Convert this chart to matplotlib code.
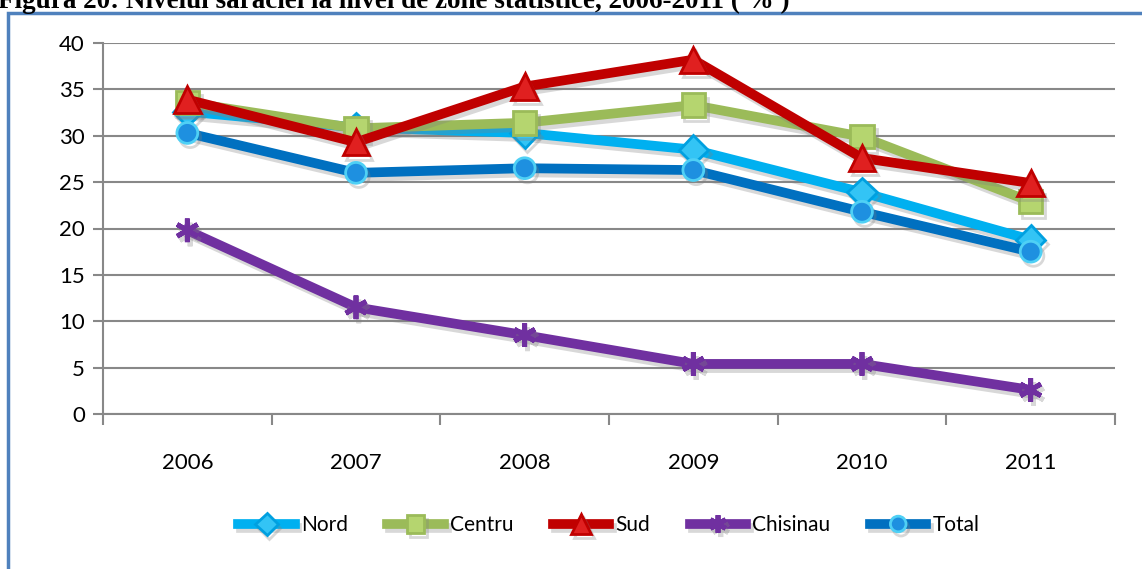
import matplotlib.pyplot as plt
import matplotlib.patheffects as pe
from matplotlib.patches import Rectangle
from matplotlib.ticker import MultipleLocator

# data
years = ['2006', '2007', '2008', '2009', '2010', '2011']
nord = [32.6, 30.9, 30.3, 28.5, 23.9, 18.8]
centru = [33.6, 30.8, 31.4, 33.3, 29.9, 22.9]
sud = [33.9, 29.3, 35.3, 38.2, 27.6, 24.9]
chisinau = [19.8, 11.5, 8.5, 5.4, 5.4, 2.6]
total = [30.3, 26.0, 26.5, 26.3, 21.8, 17.5]

series = [nord, centru, sud, chisinau, total]
names = ['Nord', 'Centru', 'Sud', 'Chisinau', 'Total']
colors = ['#00B0F0', '#9BBB59', '#C00000', '#7030A0', '#0070C0']
face = ['#33C4F5', '#B5D56F', '#E02020', '#7030A0', '#1E90E0']
edge = ['#00A0E0', '#9BBB59', '#C00000', '#7030A0', '#4FD0F5']
markers = ['D', 's', '^', (6, 2, 0), 'o']
msizes = [15, 17, 19, 17, 15]

plt.rcParams['font.family'] = ['Lato', 'DejaVu Sans']

fig = plt.figure(figsize=(11.42, 5.69), dpi=100)
W, H = 1142, 569

# outer blue frame
fig.patches.append(Rectangle((8 / W, -0.2), 1.2, 1.2 - 13 / H, transform=fig.transFigure,
                             fill=False, edgecolor='#4F81BD', linewidth=2.5))

# clipped caption at top
fig.text(-2 / W, 1 - 8 / H, 'Figura 20: Nivelul sărăciei la nivel de zone statistice, 2006-2011 ( % )',
         family='Liberation Serif', weight='bold', fontsize=19.5, va='baseline', ha='left')

ax = fig.add_axes([103 / W, 1 - 414 / H, (1115 - 103) / W, (414 - 43) / H])
x = range(len(years))
shadow = [pe.SimpleLineShadow(offset=(2, -3), shadow_color='gray', alpha=0.3), pe.Normal()]
for i, s in enumerate(series):
    ax.plot(x, s, color=colors[i], linewidth=7, solid_joinstyle='miter',
            marker=markers[i], markersize=msizes[i],
            markerfacecolor=face[i], markeredgecolor=edge[i],
            markeredgewidth=2 if i != 3 else 3.5, label=names[i],
            path_effects=shadow, zorder=3 + i)

ax.set_xlim(-0.5, len(years) - 0.5)
ax.set_ylim(0, 40)
ax.yaxis.set_major_locator(MultipleLocator(5))
ax.set_xticks(list(x))
ax.set_xticklabels(years)
ax.set_xticks([k - 0.5 for k in range(len(years) + 1)], minor=True)
ax.tick_params(axis='x', which='major', length=0, pad=28, labelsize=16)
ax.tick_params(axis='x', which='minor', length=8, color='#888888', width=1.5, direction='out')
ax.tick_params(axis='y', length=7, color='#888888', width=1.5, labelsize=16, pad=6)
ax.grid(axis='y', color='#888888', linewidth=1.5)
ax.set_axisbelow(True)
for side in ['top', 'right']:
    ax.spines[side].set_visible(False)
for side in ['left', 'bottom']:
    ax.spines[side].set_color('#888888')
    ax.spines[side].set_linewidth(1.5)

leg = ax.legend(loc='center', bbox_to_anchor=(0.5, -0.3), ncol=5, frameon=False,
                fontsize=15, handlelength=2.7, handletextpad=0.3, columnspacing=1.9,
                markerscale=0.75)

fig.savefig('out.png', dpi=100)
